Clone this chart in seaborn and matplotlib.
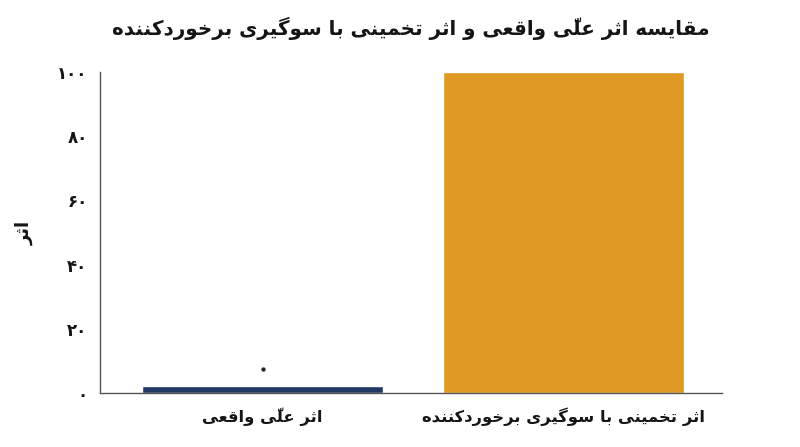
import matplotlib
matplotlib.use("Agg")
import matplotlib.pyplot as plt
import seaborn as sns
import pandas as pd

# data
categories = ["اثر علّی واقعی", "اثر تخمینی با سوگیری برخوردکننده"]
values = [2.3, 100]
point_values = [7.6]          # small marker above the first bar
y_ticks = [0, 20, 40, 60, 80, 100]
title = "مقایسه اثر علّی واقعی و اثر تخمینی با سوگیری برخوردکننده"
y_label = "اثر"
bar_colors = ["#1f3864", "#e09a24"]

# --- minimal Persian shaping (matplotlib has no complex text layout) ---
FORMS = {  # isolated, final, initial, medial
    "\u0627": ("\uFE8D", "\uFE8E", None, None),
    "\u0628": ("\uFE8F", "\uFE90", "\uFE91", "\uFE92"),
    "\u062A": ("\uFE95", "\uFE96", "\uFE97", "\uFE98"),
    "\u062B": ("\uFE99", "\uFE9A", "\uFE9B", "\uFE9C"),
    "\u062E": ("\uFEA5", "\uFEA6", "\uFEA7", "\uFEA8"),
    "\u062F": ("\uFEA9", "\uFEAA", None, None),
    "\u0631": ("\uFEAD", "\uFEAE", None, None),
    "\u0633": ("\uFEB1", "\uFEB2", "\uFEB3", "\uFEB4"),
    "\u0639": ("\uFEC9", "\uFECA", "\uFECB", "\uFECC"),
    "\u0642": ("\uFED5", "\uFED6", "\uFED7", "\uFED8"),
    "\u0644": ("\uFEDD", "\uFEDE", "\uFEDF", "\uFEE0"),
    "\u0645": ("\uFEE1", "\uFEE2", "\uFEE3", "\uFEE4"),
    "\u0646": ("\uFEE5", "\uFEE6", "\uFEE7", "\uFEE8"),
    "\u0647": ("\uFEE9", "\uFEEA", "\uFEEB", "\uFEEC"),
    "\u0648": ("\uFEED", "\uFEEE", None, None),
    "\u06A9": ("\uFB8E", "\uFB8F", "\uFB90", "\uFB91"),
    "\u06AF": ("\uFB92", "\uFB93", "\uFB94", "\uFB95"),
    "\u06CC": ("\uFBFC", "\uFBFD", "\uFBFE", "\uFBFF"),
}
MARKS = {"\u0651"}


def dual(c):
    return c in FORMS and FORMS[c][2] is not None


def shape(text):
    chars = list(text)
    out = []
    for i, c in enumerate(chars):
        if c not in FORMS:
            out.append(c)
            continue
        j = i - 1
        while j >= 0 and chars[j] in MARKS:
            j -= 1
        k = i + 1
        while k < len(chars) and chars[k] in MARKS:
            k += 1
        prev_c = chars[j] if j >= 0 else ""
        next_c = chars[k] if k < len(chars) else ""
        jp = dual(prev_c)
        jn = dual(c) and next_c in FORMS
        iso, fin, ini, med = FORMS[c]
        if jp and jn:
            out.append(med)
        elif jp:
            out.append(fin)
        elif jn:
            out.append(ini)
        else:
            out.append(iso)
    # visual order: plain reversal (the font draws marks to the right of
    # their origin, so the mark must come before its base)
    return "".join(reversed(out))


def fa_digits(n):
    return str(n).translate(str.maketrans("0123456789", "۰۱۲۳۴۵۶۷۸۹"))


sns.set_style("white")
plt.rcParams["font.family"] = ["DejaVu Sans"]
plt.rcParams["text.color"] = "#151515"
plt.rcParams["axes.labelcolor"] = "#151515"
plt.rcParams["xtick.color"] = "#151515"
plt.rcParams["ytick.color"] = "#151515"

df = pd.DataFrame({"cat": [shape(c) for c in categories], "val": values})

fig, ax = plt.subplots(figsize=(8, 4.47), dpi=100)
sns.barplot(data=df, x="cat", y="val", hue="cat", palette=bar_colors,
            width=0.8, legend=False, ax=ax, saturation=1)
sns.scatterplot(x=[df["cat"][0]], y=point_values, color="#222222", s=12,
                ax=ax, zorder=5)

ax.set_xlim(-0.54, 1.525)
ax.set_ylim(0, 100)
ax.set_yticks(y_ticks)
ax.set_yticklabels([fa_digits(t) for t in y_ticks], fontsize=12, fontweight="bold")
ax.tick_params(axis="x", labelsize=11.8, length=0, pad=10)
ax.tick_params(axis="y", length=0, pad=9)
for lbl in ax.get_xticklabels():
    lbl.set_fontweight("bold")
ax.set_xlabel("")
ax.set_ylabel(shape(y_label), fontsize=13, fontweight="bold", labelpad=17)
ax.set_title(shape(title), fontsize=14.3, fontweight="bold", pad=26)

sns.despine(ax=ax)
for s in ("left", "bottom"):
    ax.spines[s].set_color("#555555")
    ax.spines[s].set_linewidth(1)

fig.subplots_adjust(left=0.125, right=0.9025, top=0.84, bottom=0.12)
fig.savefig("out.png", dpi=100)
